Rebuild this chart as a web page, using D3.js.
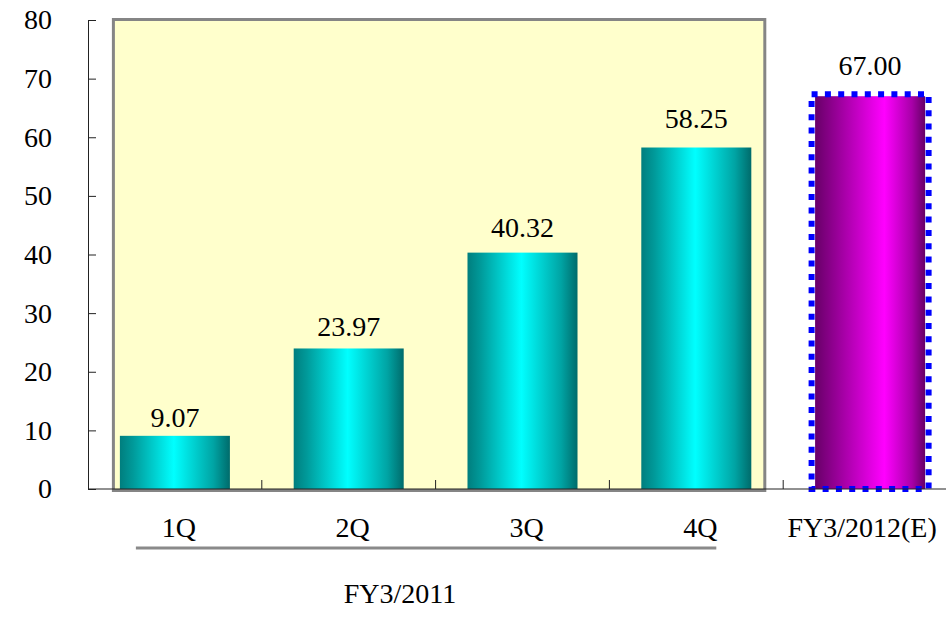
<!DOCTYPE html>
<html>
<head>
<meta charset="utf-8">
<script src="https://cdn.jsdelivr.net/npm/d3@7"></script>
<style>
  html, body { margin: 0; padding: 0; background: #fff; }
  svg { display: block; }
  svg text { font-family: "Liberation Serif", "Times New Roman", Tinos, serif; fill: #000; }
</style>
</head>
<body>
<svg id="chart" width="946" height="617"></svg>
<script>
// Quarterly results for FY3/2011 plus the full-year estimate for FY3/2012
const categories = ["1Q", "2Q", "3Q", "4Q", "FY3/2012(E)"];
const values = [9.07, 23.97, 40.32, 58.25, 67.00];
const valueLabels = ["9.07", "23.97", "40.32", "58.25", "67.00"];
const yTicks = [0, 10, 20, 30, 40, 50, 60, 70, 80];
const quarterGroup = ["1Q", "2Q", "3Q", "4Q"];
const groupLabel = "FY3/2011";
const estimateCategory = "FY3/2012(E)";

const svg = d3.select("#chart");
const W = 946, H = 617;
const fontSize = 28;
const fontFamily = "'Liberation Serif', 'Times New Roman', Tinos, serif";

const x = d3.scaleBand()
  .domain(categories)
  .range([88, 957])
  .paddingInner(0.367)
  .paddingOuter(0.1835);

const y = d3.scaleLinear().domain([0, 80]).range([489, 20]);
// value labels sit on a slightly steeper line than the bar tops
const yLabel = d3.scaleLinear().domain([0, 80]).range([482, -4.5]);

const bw = x.bandwidth();
const step = x.step();

// gradients
const defs = svg.append("defs");
const cyan = defs.append("linearGradient").attr("id", "gCyan")
  .attr("x1", "0%").attr("x2", "100%").attr("y1", "0%").attr("y2", "0%");
[["0%", "#007e7e"], ["12%", "#009a9a"], ["49%", "#00ffff"], ["85%", "#00a4a4"], ["100%", "#006b6b"]]
  .forEach(([o, c]) => cyan.append("stop").attr("offset", o).attr("stop-color", c));
const mag = defs.append("linearGradient").attr("id", "gMag")
  .attr("x1", "0%").attr("x2", "100%").attr("y1", "0%").attr("y2", "0%");
[["0%", "#680068"], ["20%", "#980098"], ["63%", "#ff00ff"], ["88%", "#a800a8"], ["100%", "#660066"]]
  .forEach(([o, c]) => mag.append("stop").attr("offset", o).attr("stop-color", c));

// highlighted panel behind the quarterly bars
const panelX0 = x(quarterGroup[0]) - 6.5;
const panelX1 = x(quarterGroup[quarterGroup.length - 1]) + bw + 13.5;
svg.append("rect")
  .attr("x", panelX0).attr("y", 19.5)
  .attr("width", panelX1 - panelX0).attr("height", 471)
  .attr("fill", "#ffffcc")
  .attr("stroke", "#858585").attr("stroke-width", 3);

// bars
svg.append("g").selectAll("rect")
  .data(categories)
  .join("rect")
  .attr("x", d => x(d))
  .attr("y", (d, i) => y(values[i]))
  .attr("width", bw)
  .attr("height", (d, i) => y(0) - y(values[i]))
  .attr("fill", d => d === estimateCategory ? "url(#gMag)" : "url(#gCyan)");

// dotted outline around the estimate bar
const ei = categories.indexOf(estimateCategory);
svg.append("rect")
  .attr("x", x(estimateCategory) - 3.5)
  .attr("y", y(values[ei]) - 2)
  .attr("width", bw + 7)
  .attr("height", y(0) - y(values[ei]) + 2)
  .attr("fill", "none")
  .attr("stroke", "#0000ff")
  .attr("stroke-width", 6)
  .attr("stroke-dasharray", "6 7.3");

// y axis
const yAxis = d3.axisLeft(y)
  .tickValues(yTicks)
  .tickSize(-8)
  .tickSizeOuter(0)
  .tickPadding(36)
  .tickFormat(d3.format("d"));
const gy = svg.append("g").attr("transform", "translate(88,0)").call(yAxis)
  .attr("font-family", fontFamily).attr("font-size", fontSize);
gy.select(".domain").attr("stroke", "#222");
gy.selectAll(".tick line").attr("stroke", "#222");
gy.selectAll(".tick text").attr("fill", "#000");

// x baseline and category separators
svg.append("line")
  .attr("x1", 88).attr("x2", W)
  .attr("y1", y(0)).attr("y2", y(0))
  .attr("stroke", "#222");
svg.append("g").selectAll("line")
  .data(categories.slice(0, -1))
  .join("line")
  .attr("x1", d => x(d) + bw + (step - bw) / 2)
  .attr("x2", d => x(d) + bw + (step - bw) / 2)
  .attr("y1", y(0)).attr("y2", y(0) - 9)
  .attr("stroke", "#222");

const textLayer = svg.append("g")
  .attr("font-family", fontFamily)
  .attr("font-size", fontSize);

// value labels
textLayer.append("g").selectAll("text")
  .data(categories)
  .join("text")
  .attr("x", d => x(d) + bw / 2)
  .attr("y", (d, i) => yLabel(values[i]))
  .attr("text-anchor", "middle")
  .text((d, i) => valueLabels[i]);

// category labels
textLayer.append("g").selectAll("text")
  .data(categories)
  .join("text")
  .attr("x", d => x(d) + bw / 2 + (d === estimateCategory ? -8 : 4))
  .attr("y", 537)
  .attr("text-anchor", "middle")
  .text(d => d);

// fiscal-year grouping under the quarters
svg.append("line")
  .attr("x1", x(quarterGroup[0]) + 16)
  .attr("x2", x(quarterGroup[quarterGroup.length - 1]) + bw - 35)
  .attr("y1", 548).attr("y2", 548)
  .attr("stroke", "#8a8a8a").attr("stroke-width", 3);
textLayer.append("text")
  .attr("x", 400).attr("y", 603)
  .attr("text-anchor", "middle")
  .text(groupLabel);
</script>
</body>
</html>
